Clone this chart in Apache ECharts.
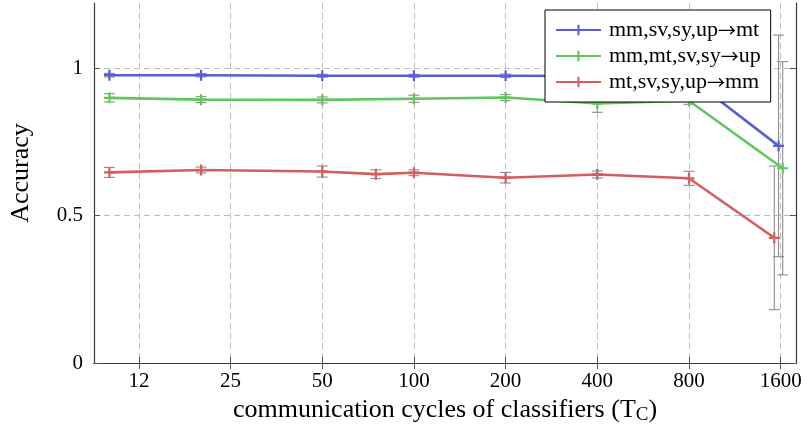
<!DOCTYPE html>
<html>
<head>
<meta charset="utf-8">
<script src="https://cdn.jsdelivr.net/npm/echarts@6/dist/echarts.min.js"></script>
<style>html,body{margin:0;padding:0;background:#fff;}#c{width:809px;height:434px;}</style>
</head>
<body>
<div id="c"></div>
<script>
// ---- data ----
var tickValues = [12.5, 25, 50, 100, 200, 400, 800, 1600];
var tickLabels = ['12', '25', '50', '100', '200', '400', '800', '1600'];
var yTicks = [0, 0.5, 1];
var yTickLabels = ['0', '0.5', '1'];

var seriesNames = ['mm,sv,sy,up\u2192mt', 'mm,mt,sv,sy\u2192up', 'mt,sv,sy,up\u2192mm'];

var blueT = [10, 20, 50, 100, 200, 400, 800, 1575];
var blueAcc = [0.977, 0.977, 0.975, 0.975, 0.975, 0.974, 0.971, 0.737];
var blueErr = [0.006, 0.006, 0.005, 0.005, 0.006, 0.006, 0.008, 0.376];

var greenT = [10, 20, 50, 100, 200, 400, 800, 1625];
var greenAcc = [0.900, 0.894, 0.893, 0.897, 0.901, 0.881, 0.890, 0.661];
var greenErr = [0.014, 0.010, 0.010, 0.012, 0.010, 0.030, 0.012, 0.362];

var redT = [10, 20, 50, 75, 100, 200, 400, 800, 1525];
var redAcc = [0.647, 0.655, 0.650, 0.641, 0.646, 0.629, 0.640, 0.627, 0.425];
var redErr = [0.017, 0.010, 0.019, 0.015, 0.010, 0.018, 0.012, 0.024, 0.244];

var colors = ['#5c5cd4', '#5ec85e', '#d45e5e'];

// ---- build ----
var lg = function (v) { return Math.log2(v); };
var xMin = lg(8.9), xMax = lg(1797);
var tickPos = tickValues.map(lg);

function pts(T, A) { return T.map(function (t, i) { return [lg(t), A[i]]; }); }
function errs(T, A, E) { return T.map(function (t, i) { return [lg(t), A[i] - E[i], A[i] + E[i]]; }); }

var plus = 'path://M4,0H6V4H10V6H6V10H4V6H0V4H4Z';
var serif = 'Liberation Serif';

function lineSeries(name, data, color) {
  return {
    name: name, type: 'line', data: data, xAxisIndex: 0, yAxisIndex: 0,
    symbol: plus, symbolSize: 11, showSymbol: true,
    lineStyle: { color: color, width: 2.6 },
    itemStyle: { color: color },
    z: 3, animation: false
  };
}

function errSeries(data) {
  return {
    type: 'custom', data: data, xAxisIndex: 0, yAxisIndex: 0, z: 2,
    encode: { x: 0, y: [1, 2] },
    silent: true, animation: false,
    renderItem: function (params, api) {
      var x = api.value(0), lo = api.value(1), hi = api.value(2);
      var p1 = api.coord([x, lo]), p2 = api.coord([x, hi]);
      var w = 5.5, st = { stroke: '#8c8c8c', lineWidth: 1.1 };
      return {
        type: 'group', children: [
          { type: 'line', shape: { x1: p1[0], y1: p1[1], x2: p2[0], y2: p2[1] }, style: st },
          { type: 'line', shape: { x1: p1[0] - w, y1: p1[1], x2: p1[0] + w, y2: p1[1] }, style: st },
          { type: 'line', shape: { x1: p2[0] - w, y1: p2[1], x2: p2[0] + w, y2: p2[1] }, style: st }
        ]
      };
    }
  };
}

function xLabel(v) {
  for (var i = 0; i < tickPos.length; i++) if (Math.abs(v - tickPos[i]) < 1e-6) return tickLabels[i];
  return '';
}
function yLabel(v) {
  for (var i = 0; i < yTicks.length; i++) if (Math.abs(v - yTicks[i]) < 1e-6) return yTickLabels[i];
  return '';
}
function legendLabel(name) {
  var parts = name.split('\u2192');
  return '{a|' + parts[0] + '}{r|\u2192}{a|' + parts[1] + '}';
}

var axisLineStyle = { lineStyle: { color: '#3a3a3a', width: 1.2 } };
var tickStyle = { show: true, inside: true, length: 6, lineStyle: { color: '#555', width: 1 } };
var splitStyle = { show: true, lineStyle: { color: '#bdbdbd', width: 1, type: [6, 4] } };

var option = {
  backgroundColor: '#ffffff',
  animation: false,
  grid: { left: 93, right: 13, top: 3, bottom: 71, containLabel: false },
  legend: {
    data: seriesNames,
    orient: 'vertical',
    left: 545, top: 10,
    backgroundColor: '#ffffff',
    borderColor: '#000000', borderWidth: 1, borderRadius: 0,
    padding: [9, 10, 9, 10],
    itemWidth: 45, itemHeight: 13, itemGap: 4,
    formatter: legendLabel,
    textStyle: { fontFamily: serif, fontSize: 22, color: '#000', padding: [0, 0, 0, 3],
      rich: {
        a: { fontFamily: serif, fontSize: 22, color: '#000' },
        r: { fontFamily: 'Noto Sans CJK SC', fontSize: 18, color: '#000' }
      } },
    z: 10
  },
  xAxis: [{
    type: 'value', position: 'bottom', min: xMin, max: xMax,
    axisLine: axisLineStyle,
    axisTick: Object.assign({ customValues: tickPos }, tickStyle),
    axisLabel: { customValues: tickPos, formatter: xLabel, fontFamily: serif, fontSize: 21, color: '#000', margin: 8 },
    splitLine: splitStyle,
    name: 'communication cycles of classifiers (T{sub|C})',
    nameLocation: 'middle', nameGap: 33,
    nameTextStyle: { fontFamily: serif, fontSize: 26, color: '#000',
      rich: { sub: { fontFamily: serif, fontSize: 19, color: '#000', padding: [10, 0, 0, 0] } } }
  }, {
    type: 'value', position: 'top', min: xMin, max: xMax,
    axisLine: axisLineStyle,
    axisTick: Object.assign({ customValues: tickPos }, tickStyle),
    axisLabel: { show: false },
    splitLine: { show: false }
  }],
  yAxis: [{
    type: 'value', position: 'left', min: 0, max: 1.222,
    axisLine: Object.assign({ show: true }, axisLineStyle),
    axisTick: Object.assign({ customValues: yTicks }, tickStyle),
    axisLabel: { customValues: yTicks, formatter: yLabel, fontFamily: serif, fontSize: 21, color: '#000', margin: 11 },
    splitLine: splitStyle,
    name: 'Accuracy', nameLocation: 'middle', nameGap: 60, nameRotate: 90,
    nameTextStyle: { fontFamily: serif, fontSize: 26, color: '#000', padding: [0, 0, 0, 20] }
  }, {
    type: 'value', position: 'right', min: 0, max: 1.222,
    axisLine: Object.assign({ show: true }, axisLineStyle),
    axisTick: Object.assign({ customValues: yTicks }, tickStyle),
    axisLabel: { show: false },
    splitLine: { show: false }
  }],
  series: [
    errSeries(errs(blueT, blueAcc, blueErr)),
    errSeries(errs(greenT, greenAcc, greenErr)),
    errSeries(errs(redT, redAcc, redErr)),
    lineSeries(seriesNames[0], pts(blueT, blueAcc), colors[0]),
    lineSeries(seriesNames[1], pts(greenT, greenAcc), colors[1]),
    lineSeries(seriesNames[2], pts(redT, redAcc), colors[2])
  ]
};

var chart = echarts.init(document.getElementById('c'), null, { renderer: 'canvas' });
chart.setOption(option);
</script>
</body>
</html>
